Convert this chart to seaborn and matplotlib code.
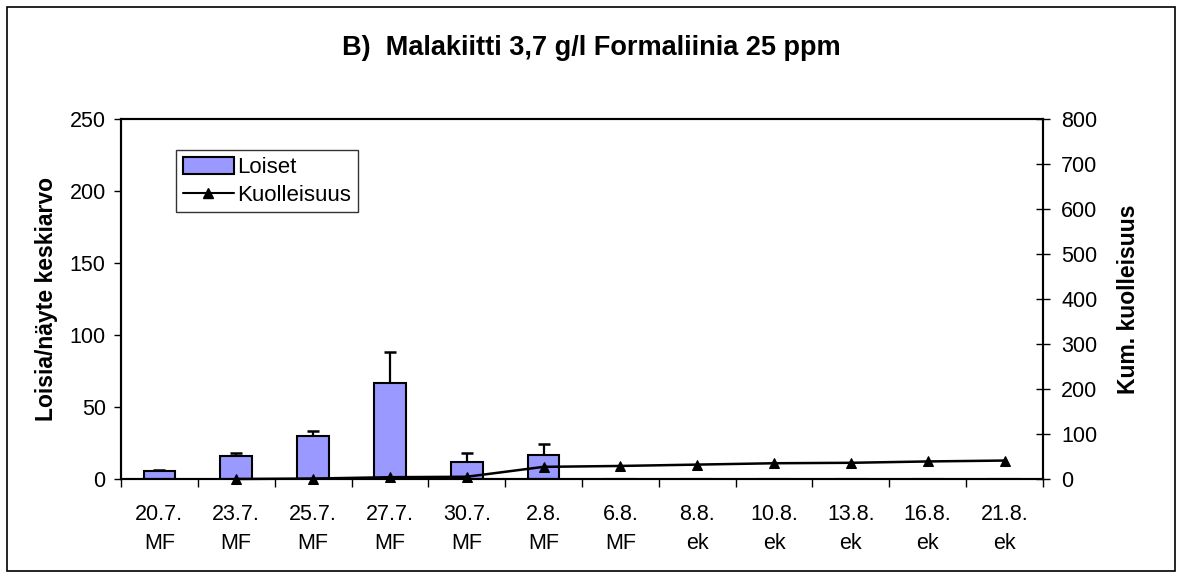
import numpy as np
import pandas as pd
import matplotlib
matplotlib.use("Agg")
import matplotlib.pyplot as plt
import seaborn as sns
from matplotlib.patches import Rectangle
from matplotlib.lines import Line2D
from matplotlib.patches import Patch

sns.set_theme(style="white")
plt.rcParams['font.family'] = ['Liberation Sans', 'DejaVu Sans']
plt.rcParams.update({"text.color": "black", "axes.labelcolor": "black",
                     "xtick.color": "black", "ytick.color": "black"})

# ---- data ----
dates = ["20.7.", "23.7.", "25.7.", "27.7.", "30.7.", "2.8.", "6.8.",
         "8.8.", "10.8.", "13.8.", "16.8.", "21.8."]
groups = ["MF", "MF", "MF", "MF", "MF", "MF", "MF",
          "ek", "ek", "ek", "ek", "ek"]
loiset = [5.5, 16, 30, 67, 11.5, 16.5, 0, 0, 0, 0, 0, 0]
loiset_err = [1, 2, 3, 21, 6.5, 7.5, 0, 0, 0, 0, 0, 0]
kuolleisuus = [np.nan, 0, 1, 4, 5, 27, 29, 32, 35, 36, 39, 41]

categories = [f"{d}\n{g}" for d, g in zip(dates, groups)]
df = pd.DataFrame({"cat": categories, "loiset": loiset, "err": loiset_err,
                   "kuol": kuolleisuus})

W, H = 1182, 578
fig = plt.figure(figsize=(W / 100, H / 100), dpi=100)
ax = fig.add_axes([121 / W, 1 - 479 / H, (1043 - 121) / W, (479 - 119) / H])

TICK_FS = 15.5
bar_color = "#9999FF"
sns.barplot(data=df, x="cat", y="loiset", ax=ax, color=bar_color,
            edgecolor="black", linewidth=1.5, width=0.41, saturation=1,
            errorbar=None, zorder=2)
pos = np.arange(len(categories))
ax.errorbar(pos, df["loiset"], yerr=[np.zeros(len(pos)), df["err"]],
            fmt="none", ecolor="black", elinewidth=1.6, capsize=4.5,
            capthick=1.8, zorder=1)

ax.set_xlim(-0.5, len(categories) - 0.5)
ax.set_ylim(0, 250)
ax.set_yticks([0, 50, 100, 150, 200, 250])
ax.set_xticks(pos)
ax.set_xticklabels(categories, fontsize=TICK_FS, linespacing=1.5)
ax.set_xticks(np.arange(-0.5, len(categories), 1), minor=True)
ax.tick_params(axis="x", which="major", length=0, pad=18)
ax.tick_params(axis="x", which="minor", length=6, width=1, color="black",
               direction="out", bottom=True)
ax.tick_params(axis="y", which="major", length=5, width=1, color="black",
               direction="out", left=True, labelsize=TICK_FS, pad=6)
ax.set_xlabel("")
ax.set_ylabel("Loisia/näyte keskiarvo", fontsize=16.5, fontweight="bold",
              labelpad=8)
for s in ax.spines.values():
    s.set_color("black")
    s.set_linewidth(1.5)

ax2 = ax.twinx()
sns.lineplot(x=pos, y=df["kuol"], ax=ax2, color="black", linewidth=1.8,
             marker="^", markersize=7.5, markeredgecolor="black", zorder=3,
             clip_on=False)
ax2.set_ylim(0, 800)
ax2.set_yticks(np.arange(0, 801, 100))
ax2.tick_params(axis="y", which="major", length=10, width=1, color="black",
                direction="inout", right=True, labelsize=TICK_FS, pad=8)
ax2.set_ylabel("Kum. kuolleisuus", fontsize=16.5, fontweight="bold",
               labelpad=14)
for s in ax2.spines.values():
    s.set_color("black")
    s.set_linewidth(1.5)
ax2.grid(False)
ax.grid(False)

handles = [Patch(facecolor=bar_color, edgecolor="black", linewidth=1.5),
           Line2D([0], [0], color="black", linewidth=1.5, marker="^",
                  markersize=7)]
leg = ax2.legend(handles, ["Loiset", "Kuolleisuus"], loc="upper left",
                 bbox_to_anchor=((176 - 121) / 922, 1 - (150 - 119) / 360),
                 fontsize=16, frameon=True, fancybox=False,
                 edgecolor="black", borderpad=0.3, handlelength=2.3,
                 handleheight=0.8, handletextpad=0.15, labelspacing=0.3,
                 borderaxespad=0)
leg.get_frame().set_linewidth(1)

fig.text(0.5, 1 - 48 / H, "B)  Malakiitti 3,7 g/l Formaliinia 25 ppm",
         ha="center", va="center", fontsize=19.5, fontweight="bold")

fig.patches.append(Rectangle((7 / W, 1 - 571 / H), (1175 - 7) / W,
                             (571 - 7) / H, transform=fig.transFigure,
                             fill=False, edgecolor="black", linewidth=1.2))

fig.savefig("out.png", dpi=100, facecolor="white")
